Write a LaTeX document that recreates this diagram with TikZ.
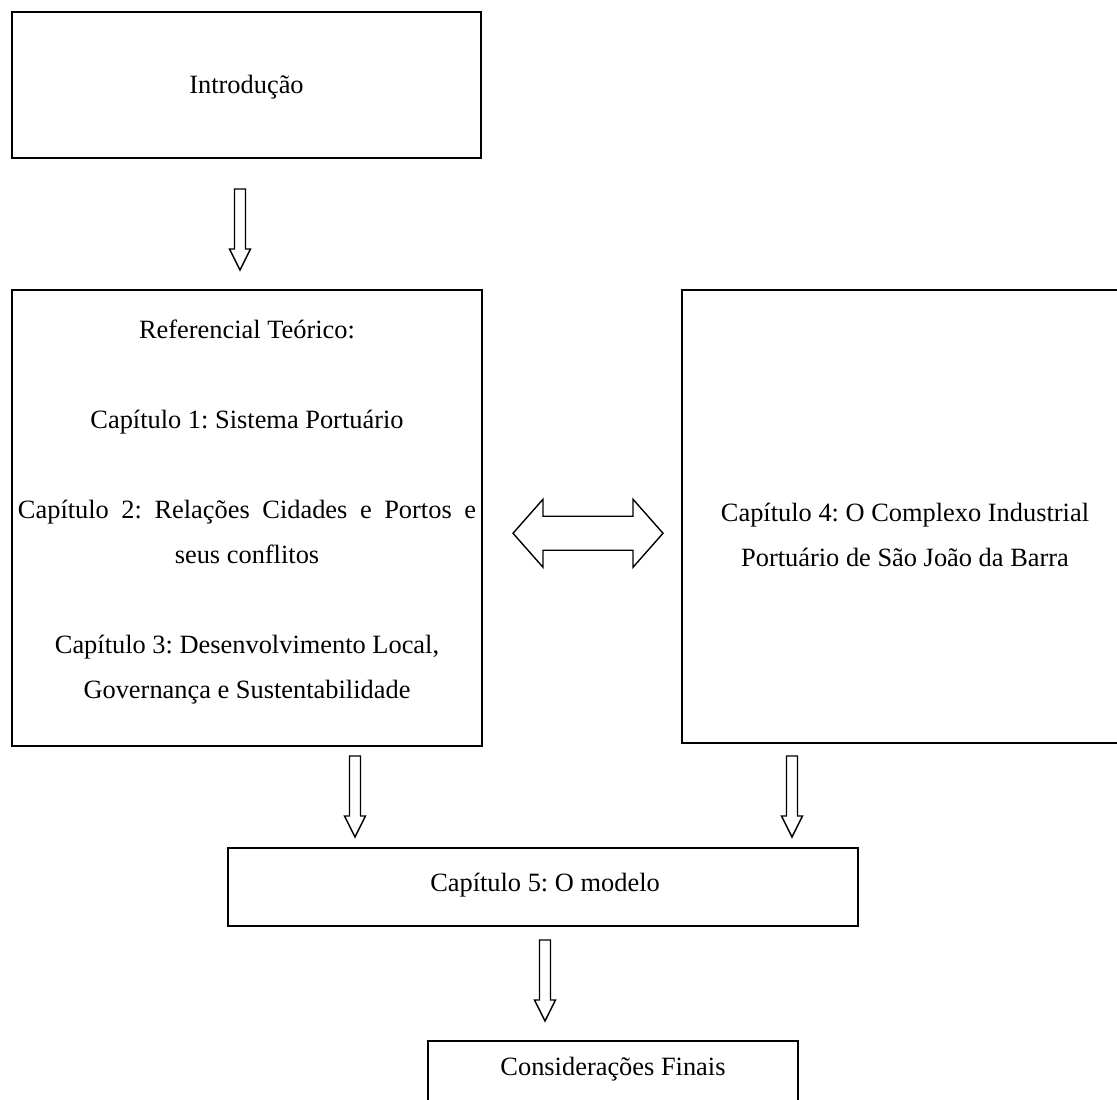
\documentclass[tikz,border=0pt]{standalone}
\usepackage{fontspec}
\setmainfont{Liberation Serif}
\usetikzlibrary{calc}
\frenchspacing
\begin{document}
\begin{tikzpicture}[x=0.5pt,y=-0.5pt,
  box/.style={draw, line width=1pt, inner sep=0pt},
  txt/.style={font=\fontsize{13.2}{22.5}\selectfont, inner sep=0pt},
  arrowline/.style={draw, line width=0.7pt, fill=white, line join=miter},
  pics/downarrow/.style={code={
    \path[arrowline] (-5.5,0) -- (5.5,0) -- (5.5,60) -- (10.5,60) -- (0,81)
      -- (-10.5,60) -- (-5.5,60) -- cycle;}},
  pics/twoway/.style={code={
    \path[arrowline] (-75,0) -- (-45,-34) -- (-45,-17) -- (45,-17) -- (45,-34)
      -- (75,0) -- (45,34) -- (45,17) -- (-45,17) -- (-45,34) -- cycle;}}]
\clip (0,0) rectangle (1117,1099);
\fill[white] (0,0) rectangle (1117,1099);

% boxes
\node[box, minimum width=234.5pt, minimum height=73pt] (intro) at (246.5,85) {};
\node[box, minimum width=235pt, minimum height=228pt] (ref) at (247,518) {};
\node[box, minimum width=223pt, minimum height=226.5pt] (cap4) at (905,516.5) {};
\node[box, minimum width=315pt, minimum height=39pt] (cap5) at (543,887) {};
\node[box, minimum width=185pt, minimum height=45pt] (final) at (613,1086) {};

% texts
\node[txt, anchor=base] (intro-t) at (246.5,93) {Introdução};
\node[txt, align=center] (ref-t) at (247,512) {Referencial Teórico:\\[22.5pt]
  Capítulo 1: Sistema Portuário\\[22.5pt]
  \makebox[229pt][s]{Capítulo 2: Relações Cidades e Portos e}\\seus conflitos\\[22.5pt]
  Capítulo 3: Desenvolvimento Local,\\Governança e Sustentabilidade};
\node[txt, align=center] (cap4-t) at (905,535) {Capítulo 4: O Complexo Industrial\\
  Portuário de São João da Barra};
\node[txt, anchor=base] (cap5-t) at (545,891) {Capítulo 5: O modelo};
\node[txt, anchor=base] (final-t) at (613,1075) {Considerações Finais};

% block arrows
\pic at ($(intro.south)+(-6.5,30)$) {downarrow};
\pic at ($(ref.south)+(108,9)$) {downarrow};
\pic at ($(cap4.south)+(-113,12)$) {downarrow};
\pic at ($(cap5.south)+(2,13)$) {downarrow};
\pic at ($($(ref.east)!0.5!(cap4.west)$)+(6,16)$) {twoway};
\end{tikzpicture}
\end{document}
